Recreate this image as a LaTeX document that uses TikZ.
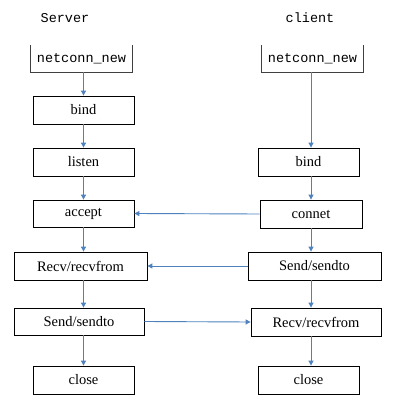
\documentclass[tikz,border=0pt]{standalone}
\usepackage{fontspec}
\setmainfont{Liberation Serif}
\setmonofont{Liberation Mono}
\usepackage{tikz}
\usetikzlibrary{arrows.meta, positioning, calc}
\usepackage{xcolor}
\definecolor{flowblue}{HTML}{4F81BD}

\tikzset{
  callbox/.style={draw=black, line width=0.8pt, minimum width=101pt, minimum height=28pt, inner sep=0pt, font=\fontsize{14.5}{16}\selectfont},
  newbox/.style={minimum width=101pt, minimum height=27pt, inner sep=0pt, font=\fontsize{13.5}{15}\ttfamily},
  flow/.style={flowblue, line width=0.9pt, -{Triangle[length=5pt,width=5pt]}}
}

\begin{document}
\begin{tikzpicture}[x=1pt, y=-1pt]
        \useasboundingbox (0, 0) rectangle (402, 419);

        \node[font=\fontsize{13.5}{15}\ttfamily] (srvtitle) at (65, 18) {Server};
        \node[font=\fontsize{13.5}{15}\ttfamily] (clttitle) at (310, 18) {client};

        % server side
        \node[newbox] (srvnew) at (81.5, 58.5) {netconn\_new};
        \draw[line width=0.8pt, black!75] (srvnew.north west) -- (srvnew.south west) -- (srvnew.south east) -- (srvnew.north east);
        \node[callbox] (srvbind) at (83.5, 110) {bind};
        \node[callbox] (srvlisten) at (83.5, 162) {listen};
        \node[callbox, minimum height=27pt] (srvaccept) at (83.5, 213.5) {accept};
        \node[callbox, minimum width=133pt] (srvrecv) at (80.5, 266) {Recv/recvfrom};
        \node[callbox, minimum width=130pt, minimum height=27pt] (srvsend) at (79, 321.5) {Send/sendto};
        \node[callbox] (srvclose) at (83.5, 380) {close};

        % client side
        \node[newbox] (cltnew) at (312.5, 58.5) {netconn\_new};
        \draw[line width=0.8pt, black!75] (cltnew.north west) -- (cltnew.south west) -- (cltnew.south east) -- (cltnew.north east);
        \node[callbox] (cltbind) at (308.5, 162) {bind};
        \node[callbox, minimum width=102pt] (cltconnet) at (311, 214) {connet};
        \node[callbox, minimum width=133pt] (cltsend) at (314.5, 266) {Send/sendto};
        \node[callbox, minimum width=130pt] (cltrecv) at (316, 322) {Recv/recvfrom};
        \node[callbox] (cltclose) at (308.5, 380) {close};

        % vertical arrows, kept on one line per column
        \draw[flow] (srvnew.south -| srvbind) -- (srvbind.north);
        \draw[flow] (srvbind) -- (srvlisten);
        \draw[flow] (srvlisten) -- (srvaccept);
        \draw[flow] (srvaccept.south) -- (srvrecv.north -| srvaccept);
        \draw[flow] (srvrecv.south -| srvaccept) -- (srvsend.north -| srvaccept);
        \draw[flow] (srvsend.south -| srvclose) -- (srvclose.north);

        \draw[flow] (cltnew.south -| cltconnet) -- (cltbind.north -| cltconnet);
        \draw[flow] (cltbind.south -| cltconnet) -- (cltconnet.north);
        \draw[flow] (cltconnet.south) -- (cltsend.north -| cltconnet);
        \draw[flow] (cltsend.south -| cltconnet) -- (cltrecv.north -| cltconnet);
        \draw[flow] (cltrecv.south -| cltconnet) -- (cltclose.north -| cltconnet);

        \draw[flow] (cltconnet.west) -- (srvaccept.east);
        \draw[flow] (cltsend.west) -- (srvrecv.east);
        \draw[flow] (srvsend.east) -- (cltrecv.west);
      \end{tikzpicture}
\end{document}
